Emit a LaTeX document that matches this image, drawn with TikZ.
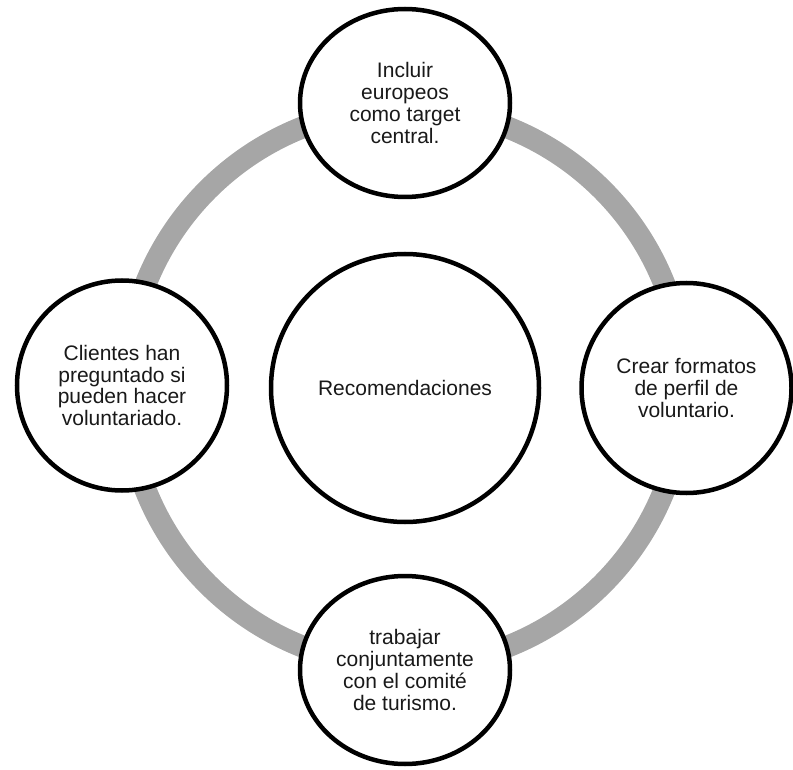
\documentclass[tikz,border=0pt]{standalone}
\usepackage{fontspec}
\setmainfont{Liberation Sans}
\usetikzlibrary{shapes.geometric}
\definecolor{ringgray}{RGB}{166,166,166}
\tikzset{
  bubble/.style={circle, draw=black, fill=white, line width=4.5pt, inner sep=0pt,
    align=center, font=\fontsize{21}{21.8}\selectfont, text=black!90},
  bubbleflat/.style={ellipse, draw=black, fill=white, line width=4.5pt, inner sep=0pt,
    minimum width=210pt, minimum height=188pt,
    align=center, font=\fontsize{21}{21.8}\selectfont, text=black!90},
  ringline/.style={draw=ringgray, line width=22pt}
}
\begin{document}
\begin{tikzpicture}[x=1pt,y=-1pt]
\useasboundingbox (0,0) rectangle (793,770);
\coordinate (ringc) at (405,387);
\draw[ringline] (ringc) circle[radius=279pt];
\node[bubble, minimum size=268pt] (center) at (405,388) {Recomendaciones};
\node[bubbleflat] (top) at (405,103) {Incluir\\europeos\\como target\\central.};
\node[bubble, minimum size=210pt] (right) at (686.5,388) {Crear formatos\\de perfil de\\voluntario.};
\node[bubbleflat] (bottom) at (405,670) {trabajar\\conjuntamente\\con el comité\\de turismo.};
\node[bubble, minimum size=210pt] (left) at (122,385.5) {Clientes han\\preguntado si\\pueden hacer\\voluntariado.};
\end{tikzpicture}
\end{document}
